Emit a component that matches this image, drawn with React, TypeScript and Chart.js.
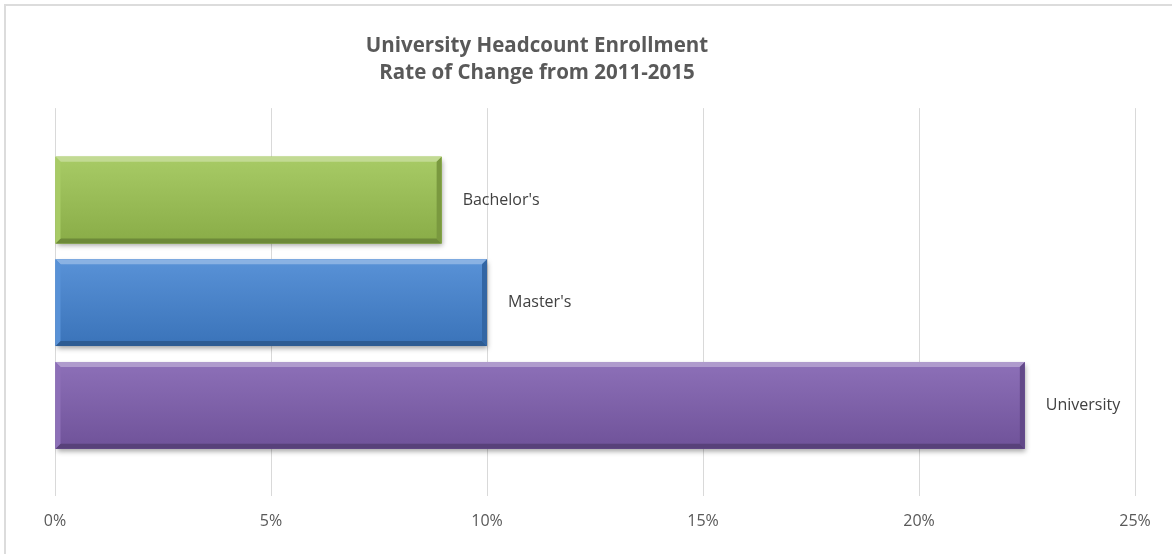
import React, { useEffect, useRef } from "react";
import { Chart, registerables } from "chart.js";

Chart.register(...registerables);

const titleLines = ["University Headcount Enrollment", "Rate of Change from 2011-2015"];
const categories = ["Bachelor's", "Master's", "University"];
const rates = [8.95, 10.0, 22.45];
const barColors = ["#9cc451", "#4283d2", "#7e5dae"];
const xTicks = [0, 5, 10, 15, 20, 25];

function shade(hex: string, amt: number): string {
  const n = parseInt(hex.slice(1), 16);
  const r = (n >> 16) & 255, g = (n >> 8) & 255, b = n & 255;
  const f = (c: number) => (amt >= 0 ? Math.round(c + (255 - c) * amt) : Math.round(c * (1 + amt)));
  return `rgb(${f(r)},${f(g)},${f(b)})`;
}

const titleShift = {
  id: "titleShift",
  afterLayout(chart: any) {
    const tb = chart.titleBlock;
    if (!tb) return;
    const ca = chart.chartArea;
    const cx = ca.left + (ca.right - ca.left) * 0.4463;
    const half = (tb.right - tb.left) / 2;
    tb.left = cx - half;
    tb.right = cx + half;
  },
};

const bevelPlugin = {
  id: "bevel",
  beforeDatasetsDraw(chart: any) {
    const ctx = chart.ctx;
    ctx.save();
    ctx.shadowColor = "rgba(0,0,0,0.35)";
    ctx.shadowBlur = 5;
    ctx.shadowOffsetX = 1;
    ctx.shadowOffsetY = 3;
  },
  afterDatasetsDraw(chart: any) {
    const ctx = chart.ctx;
    ctx.restore();
    const meta = chart.getDatasetMeta(0);
    const poly = (pts: number[][], color: string) => {
      ctx.beginPath();
      ctx.moveTo(pts[0][0], pts[0][1]);
      for (let k = 1; k < pts.length; k++) ctx.lineTo(pts[k][0], pts[k][1]);
      ctx.closePath();
      ctx.fillStyle = color;
      ctx.fill();
    };
    meta.data.forEach((el: any, i: number) => {
      const { x, y, base, height } = el.getProps(["x", "y", "base", "height"], true);
      const l = Math.min(base, x), r = Math.max(base, x);
      const t = y - height / 2, b = y + height / 2;
      const c = barColors[i];
      ctx.save();
      const g = ctx.createLinearGradient(0, t, 0, b);
      g.addColorStop(0, shade(c, 0.12));
      g.addColorStop(1, shade(c, -0.12));
      ctx.fillStyle = g;
      ctx.fillRect(l, t, r - l, b - t);
      const w = 5;
      poly([[l, t], [r, t], [r - w, t + w], [l + w, t + w]], shade(c, 0.38));
      poly([[l, b], [r, b], [r - w, b - w], [l + w, b - w]], shade(c, -0.3));
      poly([[l, t], [l + w, t + w], [l + w, b - w], [l, b]], shade(c, 0.12));
      poly([[r, t], [r - w, t + w], [r - w, b - w], [r, b]], shade(c, -0.22));
      ctx.fillStyle = "#404040";
      ctx.font = '16px "Open Sans"';
      ctx.textAlign = "left";
      ctx.textBaseline = "middle";
      ctx.fillText(categories[i], r + 21, y);
      ctx.restore();
    });
  },
};

export default function App() {
  const ref = useRef<HTMLCanvasElement | null>(null);

  useEffect(() => {
    if (!ref.current) return;
    Chart.defaults.font.family = '"Open Sans", sans-serif';
    const chart = new Chart(ref.current, {
      type: "bar",
      data: {
        labels: categories,
        datasets: [
          {
            data: rates.map((v, i) => ({ x: v, y: i })),
            backgroundColor: barColors,
            borderWidth: 0,
            categoryPercentage: 1,
            barPercentage: 0.845,
          },
        ],
      },
      options: {
        indexAxis: "y",
        animation: false,
        responsive: true,
        maintainAspectRatio: false,
        layout: { padding: { left: 55, right: 37, top: 0, bottom: 7 } },
        plugins: {
          legend: { display: false },
          tooltip: { enabled: false },
          title: {
            display: true,
            text: titleLines,
            color: "#595959",
            font: { size: 20.5, weight: "bold", lineHeight: 1.32 },
            padding: { top: 32.5, bottom: 21.5 },
          },
        },
        scales: {
          x: {
            type: "linear",
            min: xTicks[0],
            max: xTicks[xTicks.length - 1],
            border: { display: false },
            grid: { color: "#d9d9d9", lineWidth: 1, drawTicks: false },
            ticks: {
              stepSize: xTicks[1] - xTicks[0],
              color: "#595959",
              font: { size: 16 },
              padding: 16,
              callback: (v: any) => `${v}%`,
            },
          },
          y: {
            type: "linear",
            display: false,
            reverse: true,
            offset: false,
            min: -0.895,
            max: 2.881,
            afterBuildTicks: (scale: any) => {
              scale.ticks = categories.map((_, i) => ({ value: i }));
            },
          },
        },
      },
      plugins: [titleShift, bevelPlugin],
    } as any);
    return () => chart.destroy();
  }, []);

  return (
    <div style={{ position: "fixed", left: 0, top: 0, width: 1172, height: 554, background: "#fff", overflow: "hidden" }}>
      <div
        style={{
          position: "absolute",
          left: 4,
          top: 4,
          width: 1200,
          height: 600,
          border: "2px solid #dcdcdc",
          pointerEvents: "none",
        }}
      />
      <canvas ref={ref} style={{ position: "absolute", left: 0, top: 0, width: 1172, height: 554 }} />
    </div>
  );
}
